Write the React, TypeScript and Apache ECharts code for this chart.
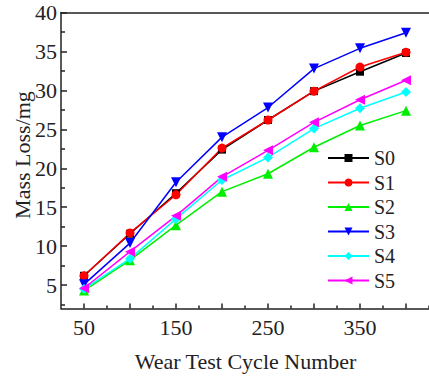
import React, { useEffect, useRef } from "react";
import * as echarts from "echarts";

const cycles = [50, 100, 150, 200, 250, 300, 350, 400];
const s0 = [6.2, 11.6, 16.8, 22.4, 26.2, 29.9, 32.4, 34.8];
const s1 = [6.2, 11.7, 16.6, 22.6, 26.2, 29.9, 33.0, 34.9];
const s2 = [4.3, 8.2, 12.7, 17.0, 19.3, 22.7, 25.5, 27.4];
const s3 = [5.1, 10.4, 18.2, 24.0, 27.8, 32.8, 35.4, 37.4];
const s4 = [4.5, 8.4, 13.5, 18.5, 21.4, 25.1, 27.7, 29.8];
const s5 = [4.6, 9.3, 13.9, 18.9, 22.3, 25.9, 28.8, 31.3];
const seriesNames = ["S0", "S1", "S2", "S3", "S4", "S5"];

const xLabels = [50, 150, 250, 350];
const xMajor = [50, 100, 150, 200, 250, 300, 350, 400];
const xMinor = [75, 125, 175, 225, 275, 325, 375, 425];
const yLabels = [5, 10, 15, 20, 25, 30, 35, 40];
const yMinor = [2.5, 7.5, 12.5, 17.5, 22.5, 27.5, 32.5, 37.5];

const FONT = "Liberation Serif";

export default function App() {
  const ref = useRef<HTMLDivElement>(null);
  useEffect(() => {
    if (!ref.current) return;
    const chart = echarts.init(ref.current, null, { renderer: "svg" });
    const all = [s0, s1, s2, s3, s4, s5];
    const colors = ["#000000", "#ff0000", "#00ee00", "#0000ff", "#00ffff", "#ff00ff"];
    const symbols = ["rect", "circle", "triangle", "triangle", "diamond", "triangle"];
    const rotates = [0, 0, 0, 180, 0, 90];
    const sizes = [8, 9, 10, 10, 10, 10];
    const axisLine = { show: true, lineStyle: { color: "#222", width: 1.5 } };
    chart.setOption({
      animation: false,
      textStyle: { fontFamily: FONT },
      grid: { left: 61, top: 12.5, width: 369, height: 296 },
      legend: {
        orient: "vertical",
        left: 327,
        top: 148,
        padding: 0,
        itemWidth: 41,
        itemHeight: 10,
        itemGap: 4.5,
        textStyle: { fontFamily: FONT, fontSize: 20, color: "#222", lineHeight: 19.5 },
        data: seriesNames,
      },
      xAxis: [
        {
          type: "value",
          min: 25,
          max: 425,
          position: "bottom",
          axisLine,
          splitLine: { show: false },
          axisTick: { show: true, inside: true, length: 5, customValues: xMajor, lineStyle: { color: "#222", width: 1.5 } },
          axisLabel: { customValues: xLabels, fontFamily: FONT, fontSize: 22, color: "#222", margin: 8 },
        },
        {
          type: "value",
          min: 25,
          max: 425,
          position: "bottom",
          axisLine: { show: false },
          splitLine: { show: false },
          axisTick: { show: true, inside: true, length: 3, customValues: xMinor, lineStyle: { color: "#222", width: 1.5 } },
          axisLabel: { show: false },
        },
        {
          type: "value",
          min: 25,
          max: 425,
          position: "top",
          axisLine,
          splitLine: { show: false },
          axisTick: { show: false },
          axisLabel: { show: false },
        },
      ],
      yAxis: [
        {
          type: "value",
          min: 2,
          max: 40,
          position: "left",
          axisLine,
          splitLine: { show: false },
          axisTick: { show: true, inside: true, length: 6, customValues: yLabels, lineStyle: { color: "#222", width: 1.5 } },
          axisLabel: { customValues: yLabels, fontFamily: FONT, fontSize: 22, color: "#222", margin: 4 },
        },
        {
          type: "value",
          min: 2,
          max: 40,
          position: "left",
          axisLine: { show: false },
          splitLine: { show: false },
          axisTick: { show: true, inside: true, length: 4, customValues: yMinor, lineStyle: { color: "#222", width: 1.5 } },
          axisLabel: { show: false },
        },
      ],
      graphic: [
        {
          type: "text",
          x: 245.5,
          y: 361,
          style: {
            text: "Wear Test Cycle Number",
            fontFamily: FONT,
            fontSize: 22,
            fill: "#222",
            align: "center",
            verticalAlign: "middle",
          },
        },
        {
          type: "text",
          x: 22,
          y: 155,
          rotation: Math.PI / 2,
          style: {
            text: "Mass Loss/mg",
            fontFamily: FONT,
            fontSize: 22,
            fill: "#222",
            align: "center",
            verticalAlign: "middle",
          },
        },
      ],
      series: all.map((d, i) => ({
        name: seriesNames[i],
        type: "line",
        xAxisIndex: 0,
        yAxisIndex: 0,
        data: cycles.map((c, j) => [c, d[j]]),
        symbol: symbols[i],
        symbolRotate: rotates[i],
        symbolSize: sizes[i],
        showAllSymbol: true,
        itemStyle: { color: colors[i] },
        lineStyle: { color: colors[i], width: 1.5 },
        emphasis: { disabled: true },
      })),
    });
    return () => chart.dispose();
  }, []);
  return (
    <div
      ref={ref}
      style={{ position: "fixed", left: 0, top: 0, width: 429, height: 376, background: "#fff" }}
    />
  );
}
